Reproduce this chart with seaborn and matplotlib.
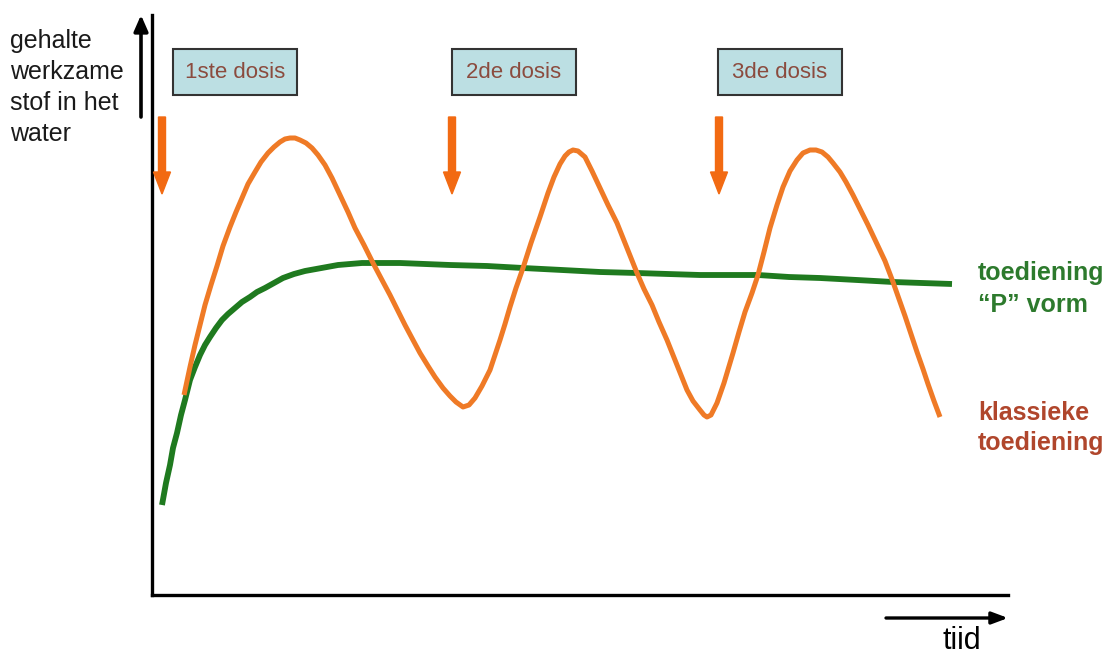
import matplotlib
matplotlib.use("Agg")
import matplotlib.pyplot as plt
from matplotlib.patches import Rectangle
import seaborn as sns

# -----------------------------
# data (time units on x, level on y)
# -----------------------------
klassiek_t = [32, 38, 43, 48, 53, 59, 65, 71, 78, 84, 90, 96, 103, 109, 116, 122, 128, 133,
              138, 143, 148, 154, 160, 166, 173, 180, 188,
              196, 203, 212, 221, 230, 238, 246, 253, 261, 268, 276, 283, 291, 298, 304,
              311, 317, 323,
              330, 338, 343, 348, 353, 358, 364, 371, 379, 388, 396, 402, 408, 413, 417,
              421, 426, 433, 440,
              448, 456, 465, 475, 485, 492, 500, 507, 515, 525, 535, 541, 548, 552, 555,
              559, 565, 572,
              581, 587, 593, 600, 606, 612, 618, 625, 631, 638, 645, 651, 658, 664, 670,
              676, 681,
              688, 694, 701, 708, 716, 725, 733, 741, 747, 753, 759, 765, 771, 776, 782, 788]
klassiek_y = [200, 228, 250, 270, 290, 310, 329, 349, 368, 383, 397, 411, 423, 433, 442, 448,
              453, 456, 457, 457, 455, 452, 447, 440, 430, 417, 400,
              383, 367, 350, 332, 315, 300, 284, 270, 255, 242, 229, 218, 207, 199, 193,
              188, 190, 197,
              209, 225, 240, 255, 271, 288, 307, 327, 352, 378, 402, 418, 431, 439, 443,
              445, 444, 438, 424,
              407, 390, 372, 347, 322, 306, 290, 273, 255, 230, 205, 194, 185, 180, 178,
              180, 192, 212,
              242, 263, 283, 302, 320, 343, 367, 390, 408, 424, 435, 442, 445, 445, 443,
              438, 432,
              423, 413, 400, 386, 370, 351, 334, 313, 296, 279, 261, 243, 226, 211, 194, 178]

pvorm_t = [10, 14, 18, 21, 25, 29, 33, 38, 43, 48, 53, 58, 64, 70, 76, 83, 90, 98, 105, 113,
           122, 131, 142, 153, 164, 175, 186, 198, 210, 221, 235, 248, 273, 298, 335, 371,
           410, 448, 485, 516, 548, 577, 606, 637, 668, 705, 741, 770, 800]
pvorm_y = [90, 112, 130, 147, 162, 180, 195, 215, 228, 240, 250, 258, 267, 275, 281, 287,
           293, 298, 303, 307, 312, 317, 321, 324, 326, 328, 330, 331, 332, 332, 332, 332,
           331, 330, 329, 327, 325, 323, 322, 321, 320, 320, 320, 318, 317, 315, 313, 312,
           311]

dosis_labels = ["1ste dosis", "2de dosis", "3de dosis"]
dosis_t = [10, 300, 567]

left_label = ["gehalte", "werkzame", "stof in het", "water"]
p_label = ["toediening", "\u201cP\u201d vorm"]
klassiek_label = ["klassieke", "toediening"]

ORANGE = "#ef7a26"
ARROW = "#f26a12"
GREEN = "#1f7a1f"

sns.set_theme(style="white")
plt.rcParams["font.family"] = ["Liberation Sans", "DejaVu Sans"]

fig = plt.figure(figsize=(11.12, 6.55), dpi=100)
ax = fig.add_axes([152 / 1112, 60 / 655, 856 / 1112, 580 / 655])
ax.set_xlim(0, 856)
ax.set_ylim(0, 580)

sns.lineplot(x=pvorm_t, y=pvorm_y, sort=False, estimator=None, color=GREEN,
             linewidth=4.2, ax=ax, solid_capstyle="butt", solid_joinstyle="round")
sns.lineplot(x=klassiek_t, y=klassiek_y, sort=False, estimator=None, color=ORANGE,
             linewidth=3.6, ax=ax, solid_capstyle="butt", solid_joinstyle="round")

ax.set_xticks([])
ax.set_yticks([])
ax.set_xlabel("")
ax.set_ylabel("")
sns.despine(ax=ax)
for s in ["left", "bottom"]:
    ax.spines[s].set_linewidth(2.4)
    ax.spines[s].set_color("black")

# dosis boxes + arrows
box_x = [21, 300, 566]
for lab, bx, t in zip(dosis_labels, box_x, dosis_t):
    ax.add_patch(Rectangle((bx, 500), 124, 46, facecolor="#bcdfe3", edgecolor="#333333",
                           linewidth=1.5, clip_on=False, zorder=3))
    ax.text(bx + 62, 523, lab, ha="center", va="center", fontsize=16, color="#8b4b3e",
            zorder=4)
    ax.arrow(t, 478, 0, -77, width=7, head_width=17, head_length=22,
             length_includes_head=True, color=ARROW, zorder=3)

# axis arrows
ax.annotate("", xy=(-11, 580), xytext=(-11, 478), annotation_clip=False,
            arrowprops=dict(arrowstyle="-|>,head_width=0.35,head_length=0.8",
                            color="black", lw=2.6, shrinkA=0, shrinkB=0))
ax.annotate("", xy=(856, -23), xytext=(734, -23), annotation_clip=False,
            arrowprops=dict(arrowstyle="-|>,head_width=0.3,head_length=0.8",
                            color="black", lw=2.4, shrinkA=0, shrinkB=0))
ax.text(810, -54, "tiid", ha="center", va="baseline", fontsize=22, color="black")

# labels
for i, line in enumerate(left_label):
    ax.text(-142, 547 - 31 * i, line, ha="left", va="baseline", fontsize=18,
            color="#1a1a1a")
for i, line in enumerate(p_label):
    ax.text(826, 315 - 32 * i, line, ha="left", va="baseline", fontsize=18,
            fontweight="bold", color="#2d7a2d")
for i, line in enumerate(klassiek_label):
    ax.text(826, 175 - 30 * i, line, ha="left", va="baseline", fontsize=18,
            fontweight="bold", color="#b0462c")

fig.savefig("out.png", dpi=100)
